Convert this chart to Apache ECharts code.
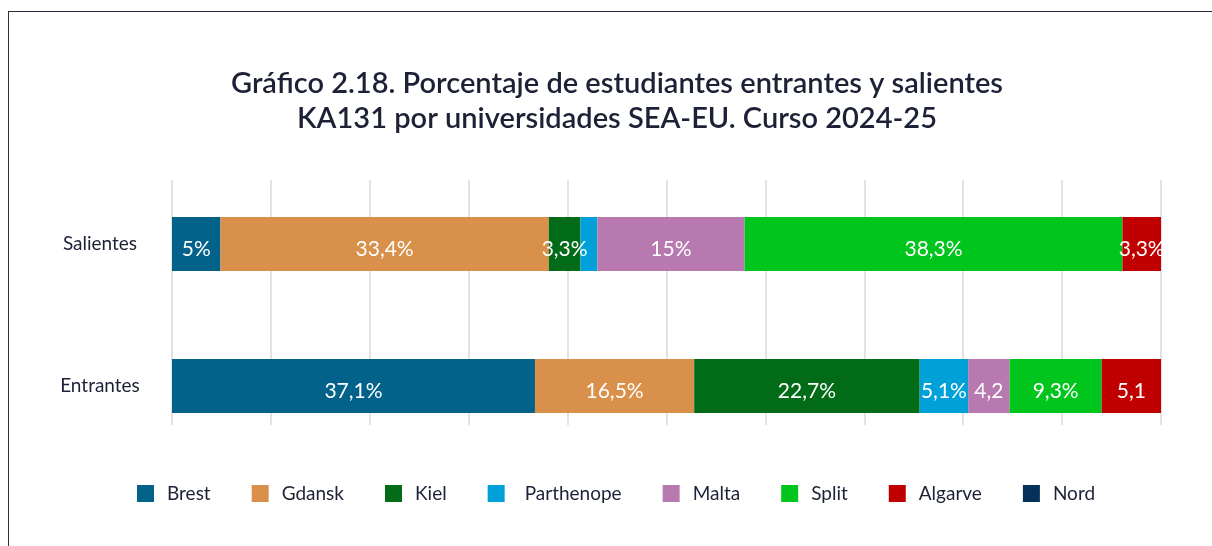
<!DOCTYPE html>
<html>
<head>
<meta charset="utf-8">
<script src="https://cdn.jsdelivr.net/npm/echarts@6/dist/echarts.min.js"></script>
<style>
  html, body { margin: 0; padding: 0; background: #fff; }
  #marco {
    position: absolute; left: 8px; top: 11px; width: 1300px; height: 600px;
    border-top: 1.5px solid #2b2f40; border-left: 1.5px solid #2b2f40;
  }
  #chart { position: absolute; left: 0; top: 0; width: 1212px; height: 546px; }
</style>
</head>
<body>
<div id="marco"></div>
<div id="chart"></div>
<script>
// datos
var categorias = ["Salientes", "Entrantes"];
var universidades = ["Brest", "Gdansk", "Kiel", "Parthenope", "Malta", "Split", "Algarve", "Nord"];
var colores = ["#02628a", "#d9904a", "#016b17", "#00a1d9", "#b878b0", "#00c51c", "#c00000", "#05305a"];
// longitud de cada tramo (%) medida en la imagen
var salientes = [4.9, 33.2, 3.2, 1.7, 14.9, 38.2, 3.9, 0];
var entrantes = [36.7, 16.1, 22.8, 4.9, 4.2, 9.3, 6.0, 0];
// etiquetas tal como aparecen (algunas recortadas en el original)
var etiquetasSalientes = ["5%", "33,4%", "3,3%", "", "15%", "38,3%", "3,3%", ""];
var etiquetasEntrantes = ["37,1%", "16,5%", "22,7%", "5,1%", "4,2", "9,3%", "5,1", ""];

var dom = document.getElementById("chart");
var myChart = echarts.init(dom, null, { renderer: "canvas" });

var series = universidades.map(function (nombre, i) {
  return {
    name: nombre,
    type: "bar",
    stack: "total",
    xAxisIndex: 0,
    yAxisIndex: 0,
    barWidth: 54,
    itemStyle: { color: colores[i] },
    label: {
      show: true,
      position: "inside",
      offset: [0, 5],
      color: "#fff",
      fontFamily: "Lato",
      fontSize: 21,
      formatter: function (p) {
        return p.dataIndex === 0 ? etiquetasSalientes[i] : etiquetasEntrantes[i];
      },
    },
    data: [salientes[i], entrantes[i]],
  };
});

var option = {
  backgroundColor: "transparent",
  animation: false,
  color: colores,
  title: {
    text: "Gráfico 2.18. Porcentaje de estudiantes entrantes y salientes\nKA131 por universidades SEA-EU. Curso 2024-25",
    left: 612,
    textAlign: "center",
    top: 61,
    textStyle: {
      fontFamily: "Lato",
      fontSize: 29,
      fontWeight: 600,
      color: "#1d2136",
      lineHeight: 35,
    },
  },
  legend: {
    left: 137,
    top: 484,
    padding: 0,
    itemWidth: 17,
    itemHeight: 17,
    itemGap: 41,
    icon: "rect",
    textStyle: {
      fontFamily: "Lato",
      fontSize: 19,
      color: "#1d2136",
      padding: [0, 0, 0, 8],
      rich: { p: { fontFamily: "Lato", fontSize: 19, color: "#1d2136", padding: [0, 0, 0, 7] } },
    },
    formatter: function (name) {
      return name === "Parthenope" ? "{p|" + name + "}" : name;
    },
    data: universidades,
  },
  grid: [
    { left: 172, right: 51, top: 173, height: 284 },
    { left: 172, right: 51, top: 180, height: 245 },
  ],
  xAxis: [
    {
      type: "value", gridIndex: 0, min: 0, max: 100, interval: 10,
      axisLabel: { show: false }, axisLine: { show: false }, axisTick: { show: false },
      splitLine: { show: false },
    },
    {
      type: "value", gridIndex: 1, min: 0, max: 100, interval: 10,
      axisLabel: { show: false }, axisLine: { show: false }, axisTick: { show: false },
      splitLine: { show: true, lineStyle: { color: "#d9d9d9", width: 1.5 } },
    },
  ],
  yAxis: [
    {
      type: "category", gridIndex: 0, data: categorias, inverse: true,
      axisLine: { show: false }, axisTick: { show: false },
      axisLabel: { fontFamily: "Lato", fontSize: 19, color: "#1d2136", align: "center", margin: 72 },
    },
    { type: "category", gridIndex: 1, data: categorias, show: false },
  ],
  series: series,
};

if (option && typeof option === "object") {
  myChart.setOption(option);
}
window.onresize = function () {
  myChart.resize();
};
</script>
</body>
</html>
